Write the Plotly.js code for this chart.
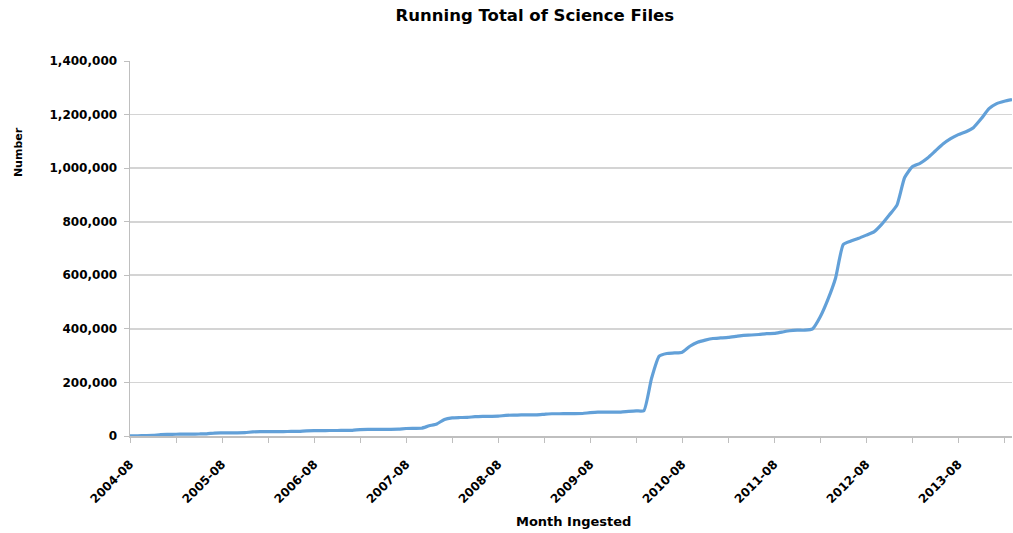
<!DOCTYPE html>
<html>
<head>
<meta charset="utf-8">
<script src="https://cdn.plot.ly/plotly-3.0.1.min.js"></script>
<style>
  html, body { margin: 0; padding: 0; background: #ffffff; }
  #chart { width: 1013px; height: 533px; }
</style>
</head>
<body>
<div id="chart"></div>
<script>
var months = [
  "2004-08","2004-09","2004-10","2004-11","2004-12",
  "2005-01","2005-02","2005-03","2005-04","2005-05","2005-06","2005-07","2005-08","2005-09","2005-10","2005-11","2005-12",
  "2006-01","2006-02","2006-03","2006-04","2006-05","2006-06","2006-07","2006-08","2006-09","2006-10","2006-11","2006-12",
  "2007-01","2007-02","2007-03","2007-04","2007-05","2007-06","2007-07","2007-08","2007-09","2007-10","2007-11","2007-12",
  "2008-01","2008-02","2008-03","2008-04","2008-05","2008-06","2008-07","2008-08","2008-09","2008-10","2008-11","2008-12",
  "2009-01","2009-02","2009-03","2009-04","2009-05","2009-06","2009-07","2009-08","2009-09","2009-10","2009-11","2009-12",
  "2010-01","2010-02","2010-03","2010-04","2010-05","2010-06","2010-07","2010-08","2010-09","2010-10","2010-11","2010-12",
  "2011-01","2011-02","2011-03","2011-04","2011-05","2011-06","2011-07","2011-08","2011-09","2011-10","2011-11","2011-12",
  "2012-01","2012-02","2012-03","2012-04","2012-05","2012-06","2012-07","2012-08","2012-09","2012-10","2012-11","2012-12",
  "2013-01","2013-02","2013-03","2013-04","2013-05","2013-06","2013-07","2013-08","2013-09","2013-10","2013-11","2013-12",
  "2014-01","2014-02","2014-03"
];

var runningTotal = [
  500, 1000, 1500, 2000, 5500,
  6000, 6500, 7000, 7000, 7500, 8000, 11000, 11500, 12000, 12000, 12500, 15500,
  16000, 16000, 16500, 16500, 17000, 17000, 19500, 20000, 20000, 20500, 20500, 21000,
  21000, 24000, 24500, 24500, 25000, 25000, 25500, 28000, 28500, 29000, 38000, 45000,
  62000, 68000, 69000, 69500, 72000, 73000, 73500, 74000, 77000, 78000, 78500, 78500,
  79000, 81000, 83000, 83000, 83500, 83500, 84000, 87000, 89000, 89000, 89500, 89500,
  92000, 94000, 94500, 215000, 298000, 308000, 310000, 313000, 335000, 350000, 358000, 364000,
  366000, 368000, 372000, 376000, 377000, 379000, 382000, 383000, 388000, 393000, 395000, 395000,
  400000, 445000, 510000, 590000, 715000, 728000, 738000, 750000, 762000, 790000, 825000, 862000,
  965000, 1005000, 1018000, 1038000, 1064000, 1090000, 1110000, 1125000, 1136000, 1152000, 1185000, 1222000,
  1241000, 1250000, 1256000
];

var xTickVals = ["2004-08","2005-02","2005-08","2006-02","2006-08","2007-02","2007-08","2008-02","2008-08","2009-02","2009-08","2010-02","2010-08","2011-02","2011-08","2012-02","2012-08","2013-02","2013-08","2014-02"];
var xTickText = ["2004-08","","2005-08","","2006-08","","2007-08","","2008-08","","2009-08","","2010-08","","2011-08","","2012-08","","2013-08",""];
var yTickVals = [0, 200000, 400000, 600000, 800000, 1000000, 1200000, 1400000];

var FONT = "'DejaVu Sans', Verdana, sans-serif";

var trace = {
  type: "scatter",
  mode: "lines",
  x: months,
  y: runningTotal,
  line: { color: "#62a0d8", width: 3.2, shape: "spline", smoothing: 0.5 },
  hoverinfo: "x+y",
  showlegend: false
};

var layout = {
  width: 1013,
  height: 533,
  paper_bgcolor: "#ffffff",
  plot_bgcolor: "#ffffff",
  margin: { l: 130, r: 1, t: 61, b: 97 },
  title: {
    text: "Running Total of Science Files",
    font: { family: FONT, size: 16.5, color: "#000000", weight: "bold" },
    xref: "container", yref: "container",
    x: 0.528, xanchor: "center",
    y: 0.972, yanchor: "middle"
  },
  xaxis: {
    type: "category",
    categoryorder: "array",
    categoryarray: months,
    range: [0, 115],
    tickmode: "array",
    tickvals: xTickVals,
    ticktext: xTickText,
    tickangle: -45,
    ticks: "outside",
    ticklen: 5,
    tickwidth: 1,
    tickcolor: "#bfbfbf",
    ticklabelstandoff: 10,
    showline: true,
    linecolor: "#bfbfbf",
    linewidth: 1.5,
    showgrid: false,
    zeroline: false,
    tickfont: { family: FONT, size: 12, color: "#000000", weight: "bold" }
  },
  yaxis: {
    range: [0, 1400000],
    tickmode: "array",
    tickvals: yTickVals,
    tickformat: ",d",
    ticks: "outside",
    ticklen: 5,
    tickwidth: 1,
    tickcolor: "#bfbfbf",
    ticklabelstandoff: 4,
    showline: true,
    linecolor: "#bfbfbf",
    linewidth: 1.5,
    showgrid: true,
    gridcolor: "#d4d4d4",
    gridwidth: 1.6,
    zeroline: false,
    tickfont: { family: FONT, size: 12, color: "#000000", weight: "bold" }
  },
  annotations: [
    {
      text: "Number",
      xref: "paper", yref: "paper",
      x: -0.127, y: 0.757,
      xanchor: "center", yanchor: "middle",
      textangle: -90,
      showarrow: false,
      font: { family: FONT, size: 11, color: "#000000", weight: "bold" }
    },
    {
      text: "Month Ingested",
      xref: "paper", yref: "paper",
      x: 0.503, y: -0.227,
      xanchor: "center", yanchor: "middle",
      showarrow: false,
      font: { family: FONT, size: 13, color: "#000000", weight: "bold" }
    }
  ]
};

Plotly.newPlot("chart", [trace], layout, { displayModeBar: false, staticPlot: true });
</script>
</body>
</html>
